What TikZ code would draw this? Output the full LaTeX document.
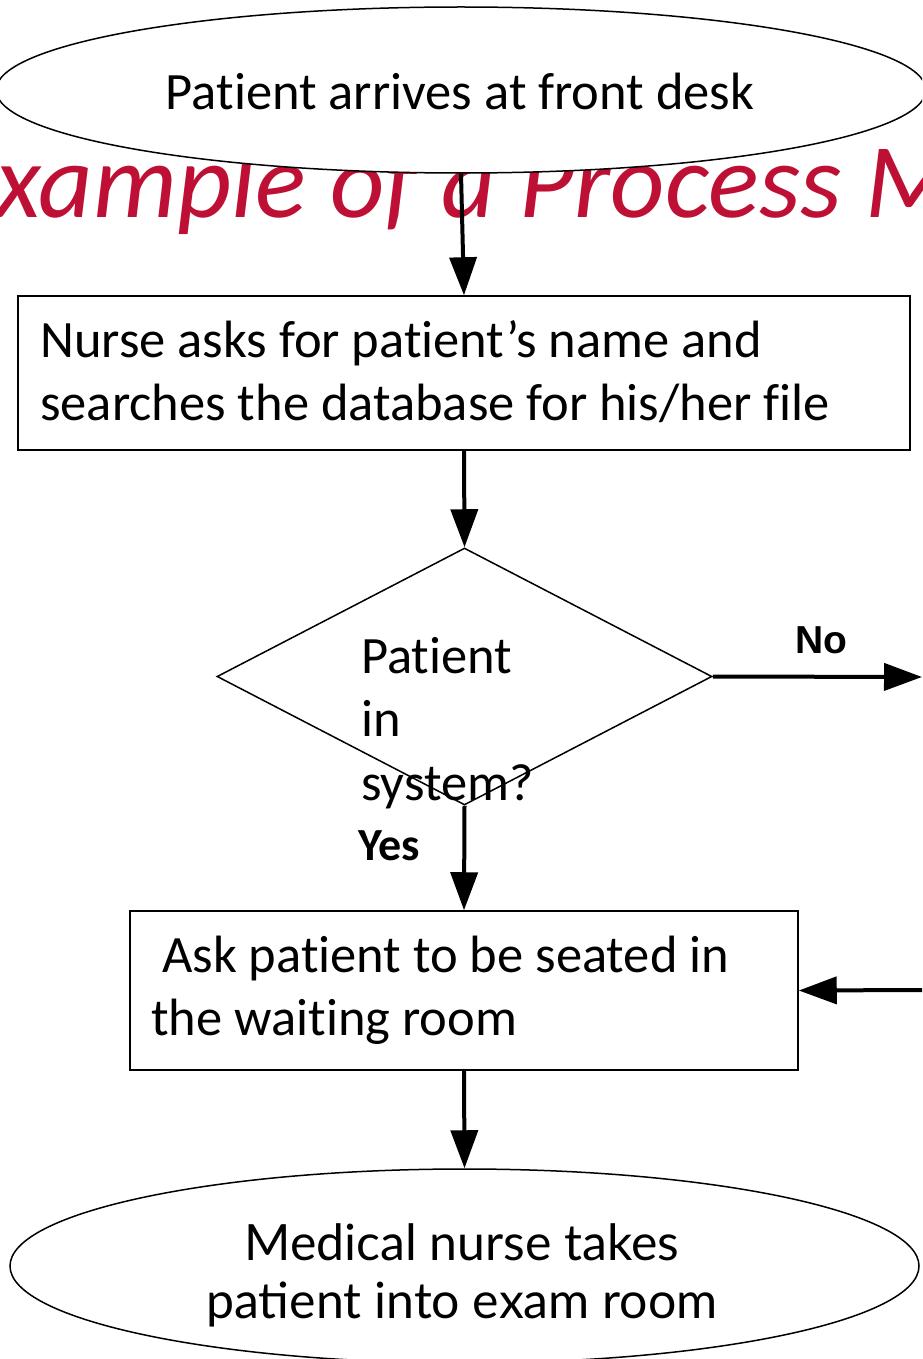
\documentclass[tikz,border=0pt]{standalone}
\usepackage{fontspec}
\setmainfont{Carlito}[Ligatures=NoCommon]
\newfontfamily\gillfont{Lato}
\newfontfamily\arialfont{Liberation Sans}
\usetikzlibrary{shapes.geometric,arrows.meta}
\definecolor{titlered}{RGB}{190,16,52}
\begin{document}
\begin{tikzpicture}[x=1pt,y=-1pt,
  shapeline/.style={draw=black,line width=1.5pt},
  boxnode/.style={shapeline, rectangle, inner sep=0pt},
  txt/.style={font=\fontsize{52.5}{63}\selectfont, inner sep=0pt, align=left, anchor=base west},
  flow/.style={line width=4pt, -{Triangle[length=38pt,width=27pt]}},
  lbl/.style={anchor=base west, inner sep=0pt}
]
\useasboundingbox (0,0) rectangle (922,1359);
\clip (0,0) rectangle (922,1359);
% title (partly hidden)
\node[lbl, text=titlered, font=\fontsize{106}{120}\selectfont\itshape] (title) at (-5,217) {xample of a Process M};
% start
\node[shapeline, fill=white, ellipse, minimum width=930, minimum height=166, inner sep=0pt] (start) at (461,90) {};
\node[anchor=base, inner sep=0pt, font=\fontsize{52.5}{63}\selectfont] (startt) at (460,110) {Patient arrives at front desk};
% box 1
\node[boxnode, minimum width=892, minimum height=154] (b1) at (464,373) {};
\node[txt] (b1t) at (40,420) {Nurse asks for patient’s name and\\searches the database for his/her file};
% decision
\node[shapeline, diamond, minimum width=495, minimum height=257, inner sep=0pt] (dec) at (464.5,676.5) {};
\node[txt, font=\fontsize{52.5}{63.5}\selectfont] (dect) at (361,800) {Patient\\in\\system?};
\node[lbl, font=\fontsize{46}{50}\selectfont\bfseries] (yes) at (358,860) {Yes};
\node[lbl, font=\arialfont\bfseries\fontsize{39}{45}\selectfont] (no) at (795,653) {No};
% box 2
\node[boxnode, minimum width=668, minimum height=159] (b2) at (464,990.5) {};
\node[txt] (b2t) at (151,1035) {\hspace*{11pt}Ask patient to be seated in\\the waiting room};
% end
\node[shapeline, fill=white, ellipse, minimum width=909, minimum height=194, inner sep=0pt] (end) at (464.5,1266) {};
\node[anchor=base, inner sep=0pt, align=center, font=\gillfont\fontsize{50}{58}\selectfont] (endt) at (462,1318) {Medical nurse takes\\patient into exam room};
% connectors
\coordinate (noend) at (922,677);
\coordinate (rin) at (922,990);
\draw[flow] (start.south) -- (b1.north);
\draw[flow] (b1.south) -- (dec.north);
\draw[flow] (dec.south) -- (b2.north);
\draw[flow] (b2.south) -- (end.north);
\draw[flow] (dec.east) -- (noend);
\draw[flow] (rin) -- (b2.east);
\end{tikzpicture}
\end{document}
